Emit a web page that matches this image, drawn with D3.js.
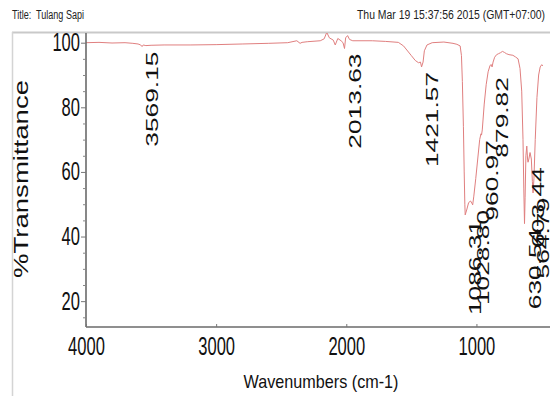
<!DOCTYPE html>
<html><head><meta charset="utf-8">
<script src="https://cdn.jsdelivr.net/npm/d3@7"></script>
<style>
html,body{margin:0;padding:0;background:#fff;}
svg{display:block;font-family:"Liberation Sans",Arial,sans-serif;}
</style></head>
<body>
<svg id="chart" width="550" height="396"></svg>
<script>
// ---- data ----
const wavenumbers = [4000,3900,3800,3700,3640,3600,3580,3569.15,3560,3540,3500,3400,3200,3000,2800,2600,2450,2380,2355,2340,2300,2200,2170,2150,2130,2100,2085,2065,2040,2025,2013.63,2005,1990,1975,1950,1800,1700,1600,1560,1500,1470,1445,1430,1421.57,1410,1400,1380,1340,1250,1180,1150,1125,1115,1108,1100,1094,1089,1086.31,1075,1060,1045,1035,1028.8,1020,1005,990,975,965,960.97,955,940,925,910,895,885,879.82,872,860,845,830,815,800,785,770,750,720,700,680,665,652,642,636,630.54,626,620,613,607,603.44,597,588,578,570,564.79,558,548,535,522,510,498,490];
const transmittance = [100.0,100.1,99.9,100.0,99.8,99.6,99.3,98.8,99.3,99.1,99.2,99.3,99.3,99.4,99.6,99.8,100.0,100.6,99.8,100.1,100.3,100.6,101.2,103.2,101.5,100.8,99.3,101.3,100.6,100.0,98.2,101.5,102.2,101.0,100.6,100.6,100.4,100.1,99.0,96.0,94.5,93.8,94.0,92.5,94.0,97.5,99.3,100.0,100.2,99.8,99.5,99.0,96.0,88.0,74.0,60.0,50.0,46.7,48.2,50.5,51.0,50.3,49.8,52.5,58.0,64.0,70.0,71.8,71.4,73.0,81.0,87.0,91.0,93.0,93.2,92.5,94.0,95.5,96.3,96.6,96.9,97.3,97.0,96.6,96.3,96.1,95.6,95.0,92.0,85.0,70.0,55.0,44.0,52.0,65.0,68.0,64.0,63.0,64.0,66.0,64.0,57.0,53.5,58.0,70.0,83.0,90.0,92.5,93.2,92.8];
const peakWavenumbers = [3569.15,2013.63,1421.57,1086.31,1028.80,960.97,879.82,630.54,603.44,564.79];
const peakTransmittance = [98.8,98.2,92.5,46.7,49.8,71.4,90.9,44.0,63.0,53.5];
const peakLabels = ["3569.15","2013.63","1421.57","1086.31","1028.80","960.97","879.82","630.54","603.44","564.79"];
const xTicks = [4000,3000,2000,1000];
const yTicks = [20,40,60,80,100];
const titleText = "Title:  Tulang Sapi";
const dateText = "Thu Mar 19 15:37:56 2015 (GMT+07:00)";
const xTitle = "Wavenumbers (cm-1)";
const yTitle = "%Transmittance";

// ---- layout ----
const svg = d3.select("#chart");
const L = 86, R = 548, T = 33, B = 327;
const x = d3.scaleLinear().domain([4000,450]).range([L,R]);
const y = d3.scaleLinear().domain([12,103]).range([B,T]);

// outer frame
svg.append("line").attr("x1",12).attr("x2",550).attr("y1",32.5).attr("y2",32.5)
  .attr("stroke","#c9c9c9").attr("stroke-width",2);
svg.append("line").attr("x1",12.5).attr("x2",12.5).attr("y1",32).attr("y2",396)
  .attr("stroke","#d4d4d4").attr("stroke-width",1.5);

// header texts
svg.append("text").attr("x",12).attr("y",19).attr("font-size",12.5)
  .attr("textLength",72).attr("lengthAdjust","spacingAndGlyphs")
  .attr("fill","#222").style("white-space","pre").text(titleText);
svg.append("text").attr("x",357).attr("y",19).attr("font-size",12.5)
  .attr("textLength",188).attr("lengthAdjust","spacingAndGlyphs")
  .attr("fill","#222").text(dateText);

// clip
svg.append("defs").append("clipPath").attr("id","clip")
  .append("rect").attr("x",L).attr("y",T).attr("width",R-L).attr("height",B-T);

// spectrum
const pts = wavenumbers.map((w,i)=>[w,transmittance[i]]);
svg.append("path").datum(pts)
  .attr("clip-path","url(#clip)")
  .attr("fill","none").attr("stroke","#e07f7f").attr("stroke-width",1)
  .attr("d", d3.line().x(d=>x(d[0])).y(d=>y(d[1])));

// y axis
const gy = svg.append("g").attr("transform",`translate(${L},0)`)
  .call(d3.axisLeft(y).tickValues(yTicks).tickSize(5).tickPadding(1).tickFormat(d3.format("d")));
// minor y ticks
const gyMinor = svg.append("g").attr("transform",`translate(${L},0)`)
  .call(d3.axisLeft(y).tickValues(d3.range(15,103,5).filter(v=>v%20!==0)).tickSize(3).tickFormat(""));
gyMinor.select(".domain").remove();
gyMinor.selectAll("line").attr("stroke","#888");
gy.select(".domain").attr("d",`M0,${T}V${B}`);

// x axis
const gx = svg.append("g").attr("transform",`translate(0,${B})`)
  .call(d3.axisBottom(x).tickValues(xTicks).tickSizeInner(-3).tickSizeOuter(0).tickPadding(10).tickFormat(d3.format("d")));
gx.select(".domain").attr("d",`M${L},0H${R+2}`);

[gy,gx].forEach(g=>{
  g.select(".domain").attr("stroke","#6a6a6a").attr("stroke-width",1.6);
  g.selectAll(".tick line").attr("stroke","#777");
  g.selectAll("text").attr("font-size",25).attr("fill","#111")
    .attr("font-family","'Liberation Sans',Arial,sans-serif")
    .each(function(){ const t=d3.select(this).text(); d3.select(this).attr("textLength",t.length*9.2).attr("lengthAdjust","spacingAndGlyphs"); });
});

// axis titles
svg.append("text").attr("x",321).attr("y",388).attr("text-anchor","middle")
  .attr("font-size",19).attr("fill","#111")
  .attr("textLength",155).attr("lengthAdjust","spacingAndGlyphs").text(xTitle);
svg.append("text").attr("transform",`translate(28,179) rotate(-90)`)
  .attr("text-anchor","middle").attr("font-size",20).attr("fill","#111")
  .attr("textLength",198).attr("lengthAdjust","spacingAndGlyphs").text(yTitle);

// peak labels
svg.append("g").selectAll("text").data(peakWavenumbers).join("text")
  .attr("transform",(d,i)=>`translate(${x(d)+16},${y(peakTransmittance[i])+5}) rotate(-90) scale(1.55,1)`)
  .attr("text-anchor","end").attr("font-size",17).attr("fill","#111")
  .text((d,i)=>peakLabels[i]);
</script>
</body></html>
